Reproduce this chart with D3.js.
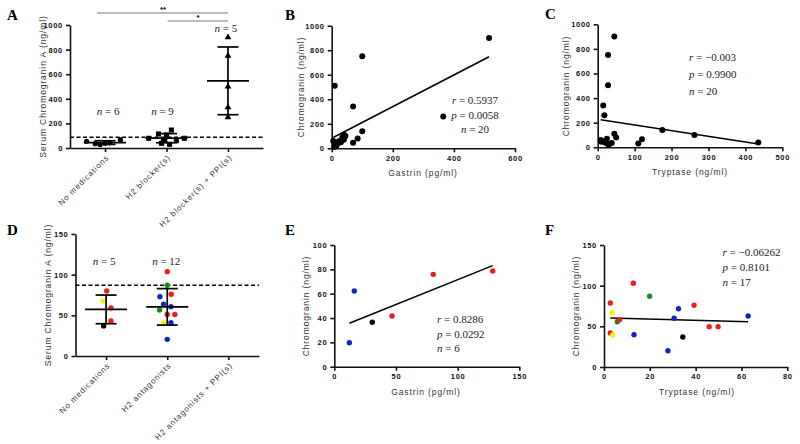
<!DOCTYPE html>
<html><head><meta charset="utf-8">
<script src="https://cdn.jsdelivr.net/npm/d3@7"></script>
<style>
body{margin:0;background:#fff}
svg{display:block}
.tick text{font-family:Arial,"Liberation Sans",sans-serif;font-size:7.5px;font-weight:bold;letter-spacing:0.7px;fill:#111}
.cat .tick text{font-weight:normal;fill:#333;letter-spacing:0.9px;font-size:8px}
.title{font-family:Arial,"Liberation Sans",sans-serif;font-size:8.5px;letter-spacing:0.9px;fill:#333}
.stat{font-family:"Times New Roman","Liberation Serif",serif;font-size:11px;fill:#222}
.letter{font-family:"Times New Roman","Liberation Serif",serif;font-size:15px;font-weight:bold;fill:#000}
</style></head><body><svg id="chart" width="800" height="444"></svg>
<script>
// ================= DATA =================
// Panel A
const aCategories = ["No medications", "H2 blocker(s)", "H2 blocker(s) + PPI(s)"];
const aNoMedications = [55, 35, 28, 38, 42, 68];
const aNoMedicationsSpread = [-0.3, -0.16, -0.08, 0, 0.08, 0.25];
const aH2Blockers = [146, 114, 106, 79, 79, 65, 60, 38, 30];
const aH2BlockersSpread = [0.08, -0.13, 0, -0.29, 0.29, -0.05, 0.16, -0.08, 0.05];
const aH2BlockersPPI = [900, 750, 500, 330, 250];
const aH2BlockersPPISpread = [0, 0, 0, 0, 0];
const aCounts = ["6", "9", "5"];
const aYTicks = [0, 200, 400, 600, 800, 1000];
const upperLimitNormal = 87;

// Panel B
const bGastrin = [515, 100, 10, 70, 365, 100, 85, 70, 40, 45, 35, 40, 25, 15, 20, 10, 5, 30, 15, 8];
const bChromogranin = [900, 750, 510, 340, 260, 140, 80, 45, 110, 100, 90, 70, 60, 50, 40, 30, 60, 50, 20, 10];
const bFit = [1.29, 82];           // slope, intercept
const bStats = ["0.5937", "0.0058", "20"];
const bXTicks = [0, 200, 400, 600];
const bYTicks = [0, 200, 400, 600, 800, 1000];

// Panel C
const cTryptase = [45, 28, 28, 15, 18, 45, 50, 25, 8, 15, 20, 25, 38, 110, 120, 175, 262, 435, 30, 10];
const cChromogranin = [900, 750, 505, 340, 260, 110, 80, 70, 60, 50, 40, 30, 35, 30, 65, 140, 100, 40, 20, 45];
const cFit = [-0.46, 227];
const cStats = ["\u22120.003", "0.9900", "20"];
const cXTicks = [0, 100, 200, 300, 400, 500];
const cYTicks = [0, 200, 400, 600, 800, 1000];

// Panel D
const dCategories = ["No medications", "H2 antagonists", "H2 antagonists + PPI(s)"];
const dNoMedications = [80, 67.6, 59, 43, 37];
const dNoMedicationsColors = ["red", "yellow", "red", "red", "black"];
const dNoMedicationsSpread = [0.01, -0.05, 0.08, 0.08, -0.04];
const dH2Antagonists = [103.7, 87, 76, 73, 63.6, 60.7, 56.6, 51, 51, 41, 41, 20.5];
const dH2AntagonistsColors = ["red", "green", "red", "blue", "blue", "blue", "green", "red", "red", "yellow", "blue", "blue"];
const dH2AntagonistsSpread = [0, 0, 0.065, -0.12, -0.06, 0.06, -0.125, 0, 0.125, -0.06, 0.06, 0];
const dCounts = ["5", "12"];
const dYTicks = [0, 50, 100, 150];

// Panel E
const eGastrin = [12.2, 16.2, 30.8, 46.8, 80.2, 128.4];
const eChromogranin = [19.7, 62.2, 36.5, 41.7, 75.9, 78.6];
const eColors = ["blue", "blue", "black", "red", "red", "red"];
const eFit = [0.407, 30.8];
const eStats = ["0.8286", "0.0292", "6"];
const eXTicks = [0, 50, 100, 150];
const eYTicks = [0, 20, 40, 60, 80, 100];

// Panel F
const fTryptase = [2.75, 3.5, 2.75, 3.8, 5.8, 6.8, 12.8, 13.1, 19.9, 27.9, 30.6, 32.5, 34.4, 39.3, 45.9, 49.8, 62.9];
const fChromogranin = [78.7, 66.8, 41.8, 39.4, 55.7, 58.2, 103, 39.7, 87, 20, 59.9, 71.7, 36.9, 75.9, 49.6, 49.6, 62.7];
const fColors = ["red", "yellow", "red", "yellow", "green", "red", "red", "blue", "green", "blue", "blue", "blue", "black", "red", "red", "red", "blue"];
const fFit = [-0.0765, 60.5];
const fStats = ["\u22120.06262", "0.8101", "17"];
const fXTicks = [0, 20, 40, 60, 80];
const fYTicks = [0, 50, 100, 150];

// ================= DRAW =================
const palette = {red: "#ee1c1c", yellow: "#f4f400", green: "#1e8a1e", blue: "#1224c4", black: "#000"};
const fmt = d3.format("d");
const svg = d3.select("#chart");
svg.append("rect").attr("width", 800).attr("height", 444).attr("fill", "#fff");

function styleAxis(g) {
  g.selectAll(".domain").attr("stroke", "#111").attr("stroke-width", 1.6);
  g.selectAll(".tick line").attr("stroke", "#111").attr("stroke-width", 1.6);
}
function letter(t, x, y) {
  svg.append("text").attr("class", "letter").attr("x", x).attr("y", y).text(t);
}
function yTitle(t, x, cy) {
  svg.append("text").attr("class", "title")
    .attr("transform", `translate(${x},${cy}) rotate(-90)`)
    .attr("text-anchor", "middle").attr("dy", "0.35em").text(t);
}
function xTitle(t, cx, y) {
  svg.append("text").attr("class", "title").attr("x", cx).attr("y", y)
    .attr("text-anchor", "middle").text(t);
}
function statLine(sym, val, x, y, anchor) {
  const t = svg.append("text").attr("class", "stat").attr("x", x).attr("y", y)
    .attr("text-anchor", anchor || "start");
  t.append("tspan").attr("font-style", "italic").text(sym);
  t.append("tspan").text(" = " + val);
}
function stats(vals, x, y, dy, anchor) {
  ["r", "p", "n"].forEach((s, i) => statLine(s, vals[i], x, y + i * dy, anchor));
}

function scatterPanel(o) {
  const x = d3.scaleLinear().domain(o.xDomain).range(o.xRange);
  const y = d3.scaleLinear().domain(o.yDomain).range(o.yRange);
  styleAxis(svg.append("g").attr("transform", `translate(0,${o.yRange[0]})`)
    .call(d3.axisBottom(x).tickValues(o.xTicks).tickFormat(fmt).tickSize(4).tickSizeOuter(0).tickPadding(3)));
  styleAxis(svg.append("g").attr("transform", `translate(${o.xRange[0]},0)`)
    .call(d3.axisLeft(y).tickValues(o.yTicks).tickFormat(fmt).tickSize(4).tickSizeOuter(0).tickPadding(3)));
  const ex = d3.extent(o.xs);
  svg.append("line")
    .attr("x1", x(ex[0])).attr("y1", y(o.fit[0] * ex[0] + o.fit[1]))
    .attr("x2", x(ex[1])).attr("y2", y(o.fit[0] * ex[1] + o.fit[1]))
    .attr("stroke", "#000").attr("stroke-width", 1.6);
  svg.append("g").selectAll("circle").data(o.xs).enter().append("circle")
    .attr("cx", d => x(d)).attr("cy", (d, i) => y(o.ys[i]))
    .attr("r", o.r).attr("fill", (d, i) => o.colors ? palette[o.colors[i]] : "#000");
}

function categoryPanel(o) {
  const x = d3.scalePoint().domain(o.categories).range(o.xRange).padding(o.pad);
  const y = d3.scaleLinear().domain(o.yDomain).range(o.yRange);
  const step = x.step();
  const gx = svg.append("g").attr("class", "cat").attr("transform", `translate(0,${o.yRange[0]})`)
    .call(d3.axisBottom(x).tickSize(4).tickSizeOuter(0));
  styleAxis(gx);
  gx.selectAll(".tick text").attr("x", 0).attr("y", 0).attr("dy", 0)
    .attr("transform", "translate(4,10) rotate(-45)").style("text-anchor", "end");
  styleAxis(svg.append("g").attr("transform", `translate(${o.xRange[0]},0)`)
    .call(d3.axisLeft(y).tickValues(o.yTicks).tickFormat(fmt).tickSize(4).tickSizeOuter(0).tickPadding(3)));
  // upper limit of normal
  svg.append("line").attr("x1", o.xRange[0]).attr("x2", o.xRange[1])
    .attr("y1", y(upperLimitNormal)).attr("y2", y(upperLimitNormal))
    .attr("stroke", "#000").attr("stroke-width", 1.5).attr("stroke-dasharray", "4,2.5");
  o.groups.forEach((gr, gi) => {
    const cx = x(o.categories[gi]);
    const g = svg.append("g");
    gr.values.forEach((v, i) => {
      const px = cx + gr.spread[i] * step, py = y(v);
      if (gr.shape === "circle") {
        g.append("circle").attr("cx", px).attr("cy", py).attr("r", gr.r || 2.8)
          .attr("fill", gr.colors ? palette[gr.colors[i]] : "#000");
      } else {
        g.append("path").attr("transform", `translate(${px},${py})`)
          .attr("d", d3.symbol().type(gr.shape).size(gr.size)()).attr("fill", "#000");
      }
    });
    const m = d3.mean(gr.values), sd = d3.deviation(gr.values);
    const eb = svg.append("g").attr("stroke", "#000").attr("stroke-width", 1.7);
    eb.append("line").attr("x1", cx - 21).attr("x2", cx + 21).attr("y1", y(m)).attr("y2", y(m));
    eb.append("line").attr("x1", cx - 10.5).attr("x2", cx + 10.5).attr("y1", y(m + sd)).attr("y2", y(m + sd));
    eb.append("line").attr("x1", cx - 10.5).attr("x2", cx + 10.5).attr("y1", y(m - sd)).attr("y2", y(m - sd));
    eb.append("line").attr("x1", cx).attr("x2", cx).attr("y1", y(m + sd)).attr("y2", y(m - sd));
    if (o.counts[gi] !== undefined) {
      const t = svg.append("text").attr("class", "stat").attr("x", cx + o.countDx[gi]).attr("y", o.countY[gi])
        .attr("text-anchor", "middle");
      t.append("tspan").attr("font-style", "italic").text("n");
      t.append("tspan").text(" = " + o.counts[gi]);
    }
  });
  return x;
}

// ---- Panel A ----
letter("A", 7, 19.5);
const xA = categoryPanel({
  categories: aCategories, xRange: [70, 263], pad: 0.57, yDomain: [0, 1000], yRange: [148, 25], yTicks: aYTicks,
  groups: [
    {values: aNoMedications, spread: aNoMedicationsSpread, shape: "circle", r: 2.6},
    {values: aH2Blockers, spread: aH2BlockersSpread, shape: d3.symbolSquare, size: 26},
    {values: aH2BlockersPPI, spread: aH2BlockersPPISpread, shape: d3.symbolTriangle, size: 20}
  ],
  counts: aCounts, countDx: [3, -4, -2], countY: [115, 115, 32]
});
yTitle("Serum Chromogranin A (ng/ml)", 43, 86.5);
// significance bars
const sig = svg.append("g").attr("stroke", "#555").attr("stroke-width", 0.8);
sig.append("line").attr("x1", 97).attr("x2", xA(aCategories[2])).attr("y1", 13).attr("y2", 13);
sig.append("line").attr("x1", xA(aCategories[1]) + 1).attr("x2", xA(aCategories[2])).attr("y1", 21).attr("y2", 21);
svg.append("text").attr("x", 163).attr("y", 12).attr("text-anchor", "middle")
  .style("font", "bold 8px Arial").text("**");
svg.append("text").attr("x", 198).attr("y", 20).attr("text-anchor", "middle")
  .style("font", "bold 8px Arial").text("*");

// ---- Panel B ----
letter("B", 285, 19.5);
scatterPanel({xDomain: [0, 600], xRange: [331.7, 515], yDomain: [0, 1000], yRange: [148.3, 25.7],
  xTicks: bXTicks, yTicks: bYTicks, xs: bGastrin, ys: bChromogranin, fit: bFit, r: 3});
yTitle("Chromogranin (ng/ml)", 301, 87);
xTitle("Gastrin (pg/ml)", 423, 176);
stats(bStats, 475, 104, 14.5, "middle");

// ---- Panel C ----
letter("C", 545, 19);
scatterPanel({xDomain: [0, 500], xRange: [597.7, 782.3], yDomain: [0, 1000], yRange: [147.3, 24.3],
  xTicks: cXTicks, yTicks: cYTicks, xs: cTryptase, ys: cChromogranin, fit: cFit, r: 3});
yTitle("Chromogranin (ng/ml)", 566, 86);
xTitle("Tryptase (ng/ml)", 690, 175);
stats(cStats, 689, 61, 17, "start");

// ---- Panel D ----
letter("D", 7, 235);
categoryPanel({
  categories: dCategories, xRange: [75.5, 259], pad: 0.5, yDomain: [0, 150], yRange: [356, 234], yTicks: dYTicks,
  groups: [
    {values: dNoMedications, spread: dNoMedicationsSpread, colors: dNoMedicationsColors, shape: "circle", r: 2.7},
    {values: dH2Antagonists, spread: dH2AntagonistsSpread, colors: dH2AntagonistsColors, shape: "circle", r: 2.7}
  ],
  counts: dCounts, countDx: [-2, -1], countY: [265, 265]
});
yTitle("Serum Chromogranin A (ng/ml)", 48, 295);

// ---- Panel E ----
letter("E", 285, 235);
scatterPanel({xDomain: [0, 150], xRange: [334.3, 519.3], yDomain: [0, 100], yRange: [366.7, 245],
  xTicks: eXTicks, yTicks: eYTicks, xs: eGastrin, ys: eChromogranin, colors: eColors, fit: eFit, r: 2.7});
yTitle("Chromogranin (ng/ml)", 306, 306);
xTitle("Gastrin (pg/ml)", 426, 395);
stats(eStats, 437, 323, 14.5, "start");

// ---- Panel F ----
letter("F", 545, 235);
scatterPanel({xDomain: [0, 80], xRange: [604, 787.3], yDomain: [0, 150], yRange: [367, 245],
  xTicks: fXTicks, yTicks: fYTicks, xs: fTryptase, ys: fChromogranin, colors: fColors, fit: fFit, r: 2.7});
yTitle("Chromogranin (ng/ml)", 576.5, 306);
xTitle("Tryptase (ng/ml)", 697, 395);
stats(fStats, 722.5, 256, 15, "start");
</script></body></html>
